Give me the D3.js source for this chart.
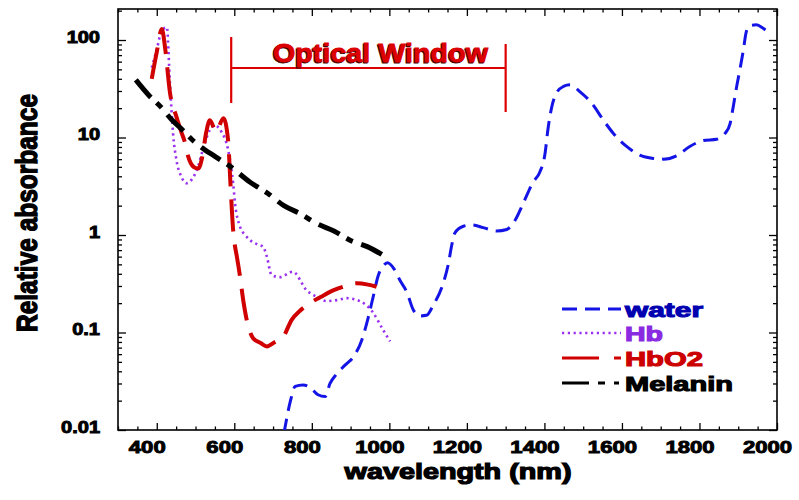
<!DOCTYPE html>
<html><head><meta charset="utf-8">
<script src="https://cdn.jsdelivr.net/npm/d3@7"></script>
<style>
body{margin:0;background:#fff;}
text{font-family:"Liberation Sans",Arial,sans-serif;font-weight:bold;}
</style></head>
<body><svg id="c" width="799" height="500"></svg>
<script>
// ---------------- data ----------------
const xTicks = [400, 600, 800, 1000, 1200, 1400, 1600, 1800, 2000];
const yTicks = [0.01, 0.1, 1, 10, 100];
const yTickLabels = ["0.01", "0.1", "1", "10", "100"];

const waterData = [[728,0.0092],[745,0.02],[757,0.028],[777,0.029],[795,0.0275],[816,0.023],[834,0.022],[847,0.03],[865,0.038],[885,0.046],[911,0.059],[929,0.084],[945,0.14],[958,0.23],[971,0.38],[984,0.48],[995,0.52],[1012,0.45],[1027,0.345],[1045,0.26],[1062,0.17],[1079,0.148],[1096,0.15],[1113,0.19],[1139,0.32],[1152,0.5],[1161,0.79],[1169,1.05],[1191,1.23],[1212,1.27],[1242,1.19],[1277,1.10],[1303,1.14],[1324,1.41],[1345,2.1],[1371,3.5],[1388,4.4],[1401,6.6],[1410,12.9],[1419,20.6],[1431,28.5],[1449,33.4],[1466,34.7],[1492,29.4],[1522,22.5],[1552,15.1],[1578,11.0],[1612,8.1],[1646,6.6],[1681,6.1],[1707,6.0],[1741,6.5],[1775,8.1],[1810,9.3],[1844,9.6],[1866,11.0],[1879,13.9],[1887,20.6],[1896,33.4],[1904,49],[1913,78],[1920,118],[1928,140],[1947,143],[1964,132],[1980,118]];

const hbData = [[387,52],[400,80],[413,125],[426,135],[434,36],[442,11],[451,5.8],[463,4.0],[477,3.4],[490,3.7],[503,4.6],[524,8.8],[537,12],[550,13.3],[567,11.4],[584,7.5],[597,3.4],[602,2.1],[615,1.21],[628,1.0],[640,0.89],[660,0.8],[674,0.76],[684,0.6],[696,0.39],[718,0.37],[751,0.42],[787,0.27],[810,0.235],[838,0.21],[865,0.215],[890,0.225],[924,0.21],[958,0.16],[984,0.106],[1002,0.081]];

const hbo2Data = [[387,40],[400,75],[413,130],[422,80],[434,29],[451,16.2],[463,11.5],[473,8.8],[481,6.4],[495,5.0],[507,4.8],[518,6.5],[527,11],[537,15],[553,11.5],[572,15.8],[584,9.4],[590,3.4],[597,1.13],[602,0.76],[606,0.62],[615,0.37],[623,0.215],[632,0.135],[649,0.087],[668,0.078],[684,0.072],[705,0.08],[726,0.09],[748,0.135],[768,0.165],[787,0.19],[830,0.24],[855,0.27],[881,0.295],[916,0.32],[945,0.31],[967,0.295]];

const melaninData = [[346,39],[380,27],[411,20.5],[440,15],[462,12.4],[490,9.6],[514,8.0],[550,6.4],[591,5.0],[640,3.5],[685,2.7],[728,2.0],[771,1.65],[814,1.3],[857,1.1],[900,0.88],[943,0.76],[990,0.6]];

const windowRange = [592, 1300];
const windowLabel = "Optical Window";

const legendNames = ["water", "Hb", "HbO2", "Melanin"];

// ---------------- layout / styles ----------------
const svg = d3.select("#c");
const L = 118, R = 777, T = 9, B = 430;
const x = d3.scaleLinear().domain([300, 2000]).range([L, R]);
const y = d3.scaleLog().domain([0.01, 208]).range([B, T]);

const styles = {
  water:   {color:"#1414e6", text:"#0000b0", width:3,   dash:"15,8"},
  Hb:      {color:"#9a30f0", text:"#8a2be2", width:2.6, dash:"2.2,3.6"},
  HbO2:    {color:"#d00000", text:"#cc0000", width:4,   dash:"32,13"},
  Melanin: {color:"#000000", text:"#000000", width:5,   dash:"23,8,7,9"}
};
const seriesData = {water: waterData, Hb: hbData, HbO2: hbo2Data, Melanin: melaninData};

svg.append("defs").append("clipPath").attr("id","clip")
  .append("rect").attr("x",L).attr("y",T).attr("width",R-L).attr("height",B-T);

// ---------------- axes ----------------
const minorX = d3.range(300, 2001, 50).filter(v => v % 200 !== 0);
const minorY = [];
[0.01,0.1,1,10,100].forEach(d => { for (let k=2;k<=9;k++){ const v=d*k; if (v<=208) minorY.push(v);} });

function styleAxis(g){ g.select(".domain").remove(); g.selectAll("line").attr("stroke","#000").attr("stroke-width",1.3); }

svg.append("g").attr("transform",`translate(0,${B})`)
  .call(d3.axisBottom(x).tickValues(minorX).tickSize(-3.5).tickFormat("")).call(styleAxis);
svg.append("g").attr("transform",`translate(0,${T})`)
  .call(d3.axisTop(x).tickValues(minorX).tickSize(-3.5).tickFormat("")).call(styleAxis);
svg.append("g").attr("transform",`translate(0,${T})`)
  .call(d3.axisTop(x).tickValues(xTicks).tickSize(-7).tickFormat("")).call(styleAxis);
const gxb = svg.append("g").attr("transform",`translate(0,${B})`)
  .call(d3.axisBottom(x).tickValues(xTicks).tickSize(-7).tickFormat(d3.format("d"))).call(styleAxis);
gxb.selectAll("text").attr("y",23).attr("dy",0).attr("dx",-10)
  .attr("font-size",17).attr("fill","#000").attr("stroke","#000").attr("stroke-width",0.9)
  .style("font-family","'Liberation Sans',Arial,sans-serif").style("font-weight","bold")
  .each(function(){ const w=this.getComputedTextLength(); this.setAttribute("textLength", w*1.3); this.setAttribute("lengthAdjust","spacingAndGlyphs"); });

svg.append("g").attr("transform",`translate(${L},0)`)
  .call(d3.axisLeft(y).tickValues(minorY).tickSize(-4).tickFormat("")).call(styleAxis);
svg.append("g").attr("transform",`translate(${R},0)`)
  .call(d3.axisRight(y).tickValues(minorY).tickSize(-4).tickFormat("")).call(styleAxis);
svg.append("g").attr("transform",`translate(${R},0)`)
  .call(d3.axisRight(y).tickValues(yTicks).tickSize(-8).tickFormat("")).call(styleAxis);
const gyl = svg.append("g").attr("transform",`translate(${L},0)`)
  .call(d3.axisLeft(y).tickValues(yTicks).tickSize(-8).tickPadding(18)
        .tickFormat((d,i) => yTickLabels[i])).call(styleAxis);
gyl.selectAll("text").attr("dy",2)
  .attr("font-size",16).attr("fill","#000").attr("stroke","#000").attr("stroke-width",0.9)
  .style("font-family","'Liberation Sans',Arial,sans-serif").style("font-weight","bold")
  .each(function(){ const w=this.getComputedTextLength(); this.setAttribute("textLength", w*1.25); this.setAttribute("lengthAdjust","spacingAndGlyphs"); });

svg.append("rect").attr("x",L).attr("y",T).attr("width",R-L).attr("height",B-T)
  .attr("fill","none").attr("stroke","#000").attr("stroke-width",1.6);

// ---------------- series ----------------
const line = d3.line().x(d => x(d[0])).y(d => y(d[1])).curve(d3.curveMonotoneX);
const plot = svg.append("g").attr("clip-path","url(#clip)");
["water","Hb","HbO2","Melanin"].forEach(k => {
  const s = styles[k];
  plot.append("path").datum(seriesData[k]).attr("d", line)
    .attr("fill","none").attr("stroke", s.color).attr("stroke-width", s.width)
    .attr("stroke-dasharray", s.dash).attr("stroke-linejoin","round");
});

// ---------------- optical window ----------------
const wc = "#dd0000";
const xa = x(windowRange[0]), xb = x(windowRange[1]);
svg.append("line").attr("x1",xa).attr("x2",xa).attr("y1",37).attr("y2",103).attr("stroke",wc).attr("stroke-width",2.2);
svg.append("line").attr("x1",xb).attr("x2",xb).attr("y1",44).attr("y2",112).attr("stroke",wc).attr("stroke-width",2.2);
svg.append("line").attr("x1",xa).attr("x2",xb).attr("y1",68).attr("y2",68).attr("stroke",wc).attr("stroke-width",2.2);
[["#3a0000",-1,1.2],[wc,0,0]].forEach(([c,dx,dy]) => {
  svg.append("text").attr("x",380.5+dx).attr("y",61.5+dy).attr("text-anchor","middle")
    .attr("font-size",26).attr("fill",c).attr("stroke",c).attr("stroke-width",0.8)
    .attr("textLength",215).attr("lengthAdjust","spacingAndGlyphs").text(windowLabel);
});

// ---------------- axis titles ----------------
svg.append("text").attr("x",458).attr("y",479).attr("text-anchor","middle")
  .attr("font-size",22).attr("fill","#000").attr("stroke","#000").attr("stroke-width",1.2)
  .attr("textLength",227).attr("lengthAdjust","spacingAndGlyphs").text("wavelength (nm)");
svg.append("text").attr("transform","translate(37,213) rotate(-90) scale(1,1.25)")
  .attr("x",0).attr("y",0).attr("text-anchor","middle")
  .attr("font-size",24).attr("fill","#000").attr("stroke","#000").attr("stroke-width",1.1)
  .attr("textLength",238).attr("lengthAdjust","spacingAndGlyphs").text("Relative absorbance");

// ---------------- legend ----------------
const legY = [309, 333, 358, 383];
const legLen = [78, 38, 78, 108];
legendNames.forEach((k,i) => {
  const s = styles[k];
  svg.append("line").attr("x1",562).attr("x2",621).attr("y1",legY[i]).attr("y2",legY[i])
    .attr("stroke",s.color).attr("stroke-width",k==="Hb"?2.4:3.2).attr("stroke-dasharray",
      k==="Melanin" ? "27,9,7,9,5" : (k==="HbO2" ? "37,15,8" : s.dash));
  svg.append("text").attr("x",625).attr("y",legY[i]+7.5).attr("font-size",21)
    .attr("fill",s.text).attr("stroke",s.text).attr("stroke-width",1.1)
    .attr("textLength",legLen[i]).attr("lengthAdjust","spacingAndGlyphs").text(k);
});
</script></body></html>
